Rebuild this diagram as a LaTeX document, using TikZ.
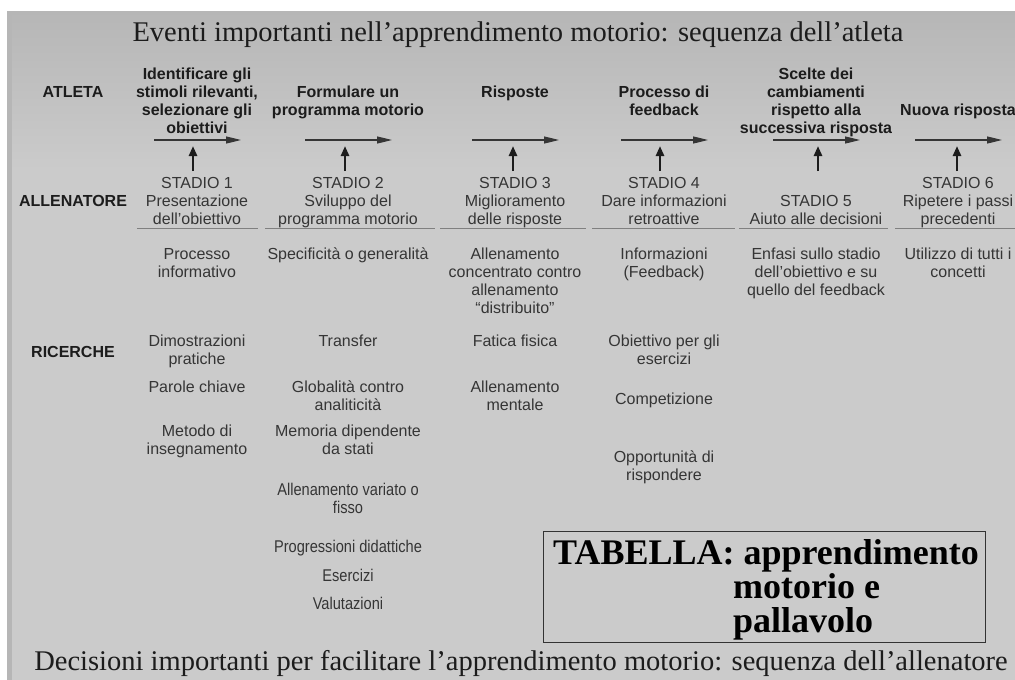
\documentclass[tikz,border=0pt]{standalone}
\usepackage{fontspec}
\setmainfont{Liberation Serif}
\setsansfont{Liberation Sans}
\usetikzlibrary{arrows.meta}
\definecolor{paperGray}{HTML}{CBCBCB}
\definecolor{edgeGray}{HTML}{B6B6B6}
\definecolor{inkDark}{HTML}{1C1C1C}
\definecolor{inkSoft}{HTML}{353535}
\newcommand{\narrowtxt}[1]{\scalebox{0.86}[1]{#1}}

\begin{document}
\begin{tikzpicture}
[x=1pt,y=-1pt,
  headText/.style={font=\sffamily\bfseries\fontsize{16}{18}\selectfont,align=center,text=inkDark,inner sep=0pt,anchor=base},
  plainText/.style={font=\sffamily\fontsize{16}{18}\selectfont,align=center,text=inkSoft,inner sep=0pt,anchor=base},
  narrowText/.style={font=\sffamily\fontsize{17}{18}\selectfont,align=center,text=inkSoft,inner sep=0pt,anchor=base},
  titleText/.style={font=\rmfamily\fontsize{28.5}{30}\selectfont,text=inkDark,inner sep=0pt,anchor=base},
  boxText/.style={font=\rmfamily\bfseries\fontsize{36}{38}\selectfont,text=black,inner sep=0pt,anchor=base west},
  darkArrow/.style={-{Triangle[length=10pt,width=8pt]},line width=2.5pt,color=inkDark},
  lightArrow/.style={-{Triangle[length=15pt,width=7pt]},line width=1.2pt,color=inkSoft},
  underLine/.style={line width=1pt,color=black!50},
  boxFrame/.style={draw=black!80,line width=1pt}]
\useasboundingbox (0,0) rectangle (1015,680);
\clip (0,0) rectangle (1015,680);
%% scanned page
\fill[white] (0,0) rectangle (1015,680);
\fill[paperGray] (7,11) rectangle (1015,680);
\shade[top color=edgeGray,bottom color=paperGray] (7,11) rectangle (1015,170);
\fill[edgeGray] (7,11) rectangle (12,680);
%% titles
\node (topTitle) at (518,41) [titleText] {Eventi importanti nell’apprendimento motorio: sequenza dell’atleta};
\node (bottomTitle) at (521,670) [titleText] {Decisioni importanti per facilitare l’apprendimento motorio: sequenza dell’allenatore};
%% row labels
\foreach \nodename/\y/\txt in {atleta/97/ATLETA, allenatore/206/ALLENATORE, ricerche/357/RICERCHE}
{
  \node (\nodename) at (73,\y) [headText] {\txt};
}
%% athlete sequence (y = baseline of last line)
\foreach \nodename/\x/\y/\txt in {
  step1/197/133/{Identificare gli\\stimoli rilevanti,\\selezionare gli\\obiettivi},
  step2/348/115/{Formulare un\\programma motorio},
  step3/515/97/{Risposte},
  step4/664/115/{Processo di\\feedback},
  step5/816/133/{Scelte dei\\cambiamenti\\rispetto alla\\successiva risposta},
  step6/958/115/{Nuova risposta}}
{
  \node (\nodename) at (\x,\y) [headText] {\txt};
}
%% coach stages
\foreach \nodename/\x/\txt in {
  stadio1/197/{STADIO 1\\Presentazione\\dell’obiettivo},
  stadio2/348/{STADIO 2\\Sviluppo del\\programma motorio},
  stadio3/515/{STADIO 3\\Miglioramento\\delle risposte},
  stadio4/664/{STADIO 4\\Dare informazioni\\retroattive},
  stadio5/816/{STADIO 5\\Aiuto alle decisioni},
  stadio6/958/{STADIO 6\\Ripetere i passi\\precedenti}}
{
  \node (\nodename) at (\x,224) [plainText] {\txt};
}
%% concepts under each stage
\foreach \nodename/\x/\y/\txt in {
  concetto1/197/277/{Processo\\informativo},
  concetto2/348/259/{Specificità o generalità},
  concetto3/515/313/{Allenamento\\concentrato contro\\allenamento\\“distribuito”},
  concetto4/664/277/{Informazioni\\(Feedback)},
  concetto5/816/295/{Enfasi sullo stadio\\dell’obiettivo e su\\quello del feedback},
  concetto6/958/277/{Utilizzo di tutti i\\concetti}}
{
  \node (\nodename) at (\x,\y) [plainText] {\txt};
}
%% research topics
\foreach \nodename/\x/\y/\txt in {
  dimostrazioni/197/364/{Dimostrazioni\\pratiche},
  parole/197/392/{Parole chiave},
  metodo/197/454/{Metodo di\\insegnamento},
  transfer/348/346/{Transfer},
  globalita/348/410/{Globalità contro\\analiticità},
  memoria/348/454/{Memoria dipendente\\da stati},
  fatica/515/346/{Fatica fisica},
  mentale/515/410/{Allenamento\\mentale},
  obiettivo/664/364/{Obiettivo per gli\\esercizi},
  competizione/664/404/{Competizione},
  opportunita/664/480/{Opportunità di\\rispondere}}
{
  \node (\nodename) at (\x,\y) [plainText] {\txt};
}
\foreach \nodename/\y/\txt in {
  variato/513/{\narrowtxt{Allenamento variato o}\\\narrowtxt{fisso}},
  progressioni/552/{\narrowtxt{Progressioni didattiche}},
  esercizi/581/{\narrowtxt{Esercizi}},
  valutazioni/609/{\narrowtxt{Valutazioni}}}
{
  \node (\nodename) at (348,\y) [narrowText] {\txt};
}
%% arrow ends
\foreach \i/\x/\xv in {1/197/193, 2/348/345, 3/515/513, 4/664/660, 5/816/818, 6/958/957}
{
  \coordinate (hl\i) at (\x-43,140);
  \coordinate (hr\i) at (\x+44,140);
  \coordinate (vb\i) at (\xv,171);
  \coordinate (vt\i) at (\xv,146);
}
%% arrows
\path
\foreach \i in {1,...,6}
{
  (hl\i) edge[lightArrow] (hr\i)
  (vb\i) edge[darkArrow] (vt\i)
};
%% rules under the stages
\foreach \xa/\xb in {137/258, 265/435, 440/586, 592/735, 739/888, 895/1020}
{
  \draw[underLine] (\xa,228) -- (\xb,228);
}
%% title box
\draw[boxFrame] (543,531) rectangle (985,642);
\node (tabella) at (553,564) [boxText] {TABELLA: apprendimento};
\node (motorio) at (733,598) [boxText] {motorio e};
\node (pallavolo) at (733,632) [boxText] {pallavolo};
\end{tikzpicture}
\end{document}
